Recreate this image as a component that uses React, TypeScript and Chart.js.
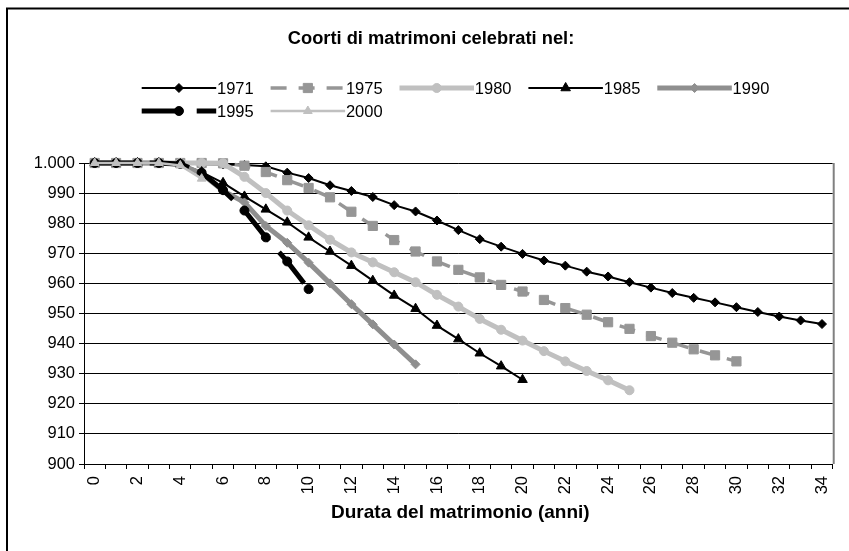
import React, { useEffect, useRef } from 'react';
import { Chart, registerables } from 'chart.js';
import { drawPoint } from 'chart.js/helpers';

Chart.register(...registerables);

// ---------- data ----------
const categories = [
  '0', '1', '2', '3', '4', '5', '6', '7', '8', '9', '10', '11', '12', '13', '14', '15', '16',
  '17', '18', '19', '20', '21', '22', '23', '24', '25', '26', '27', '28', '29', '30', '31',
  '32', '33', '34',
];

const seriesNames = ['1971', '1975', '1980', '1985', '1990', '1995', '2000'];

const s1971 = [
  1000, 1000, 1000, 1000, 999.8, 999.6, 999.5, 999.3, 998.9, 996.8, 995.0, 992.6, 990.7, 988.7,
  986.0, 983.9, 980.9, 977.7, 974.7, 972.2, 969.8, 967.6, 965.9, 963.9, 962.3, 960.4, 958.6,
  956.8, 955.2, 953.7, 952.1, 950.5, 949.0, 947.7, 946.5,
];
const s1975 = [
  1000, 1000, 1000, 1000, 1000, 1000, 999.9, 999.1, 997.0, 994.3, 991.7, 988.6, 983.8, 979.1,
  974.4, 970.6, 967.3, 964.5, 962.0, 959.5, 957.3, 954.5, 951.8, 949.6, 947.1, 944.9, 942.5,
  940.3, 938.1, 936.1, 934.1,
];
const s1980 = [
  1000, 1000, 1000, 1000, 1000, 1000, 999.9, 995.4, 990.0, 984.2, 979.3, 974.5, 970.3, 967.0,
  963.7, 960.4, 956.2, 952.3, 948.2, 944.6, 941.0, 937.5, 934.1, 930.9, 927.8, 924.5,
];
const s1985 = [
  1000, 1000, 1000, 1000, 999.7, 997.0, 993.4, 988.9, 984.6, 980.3, 975.3, 970.6, 965.9, 960.9,
  956.0, 951.6, 946.0, 941.5, 936.8, 932.5, 928.0,
];
const s1990 = [
  1000, 1000, 1000, 1000, 999.5, 996.5, 990.8, 986.9, 979.1, 973.5, 966.9, 960.0, 953.1, 946.4,
  939.7, 933.1,
];
const s1995 = [1000, 1000, 1000, 1000, 999.7, 996.8, 991.0, 984.2, 975.3, 967.3, 958.1];
const s2000 = [1000, 1000, 1000, 1000, 999.2, 994.8];

const seriesValues = [s1971, s1975, s1980, s1985, s1990, s1995, s2000];

const yMin = 900;
const yMax = 1000;
const yStep = 10;

const chartTitle = 'Coorti di matrimoni celebrati nel:';
const xAxisTitle = 'Durata del matrimonio (anni)';

// ---------- styles ----------
const FONT = 'Arial, "Liberation Sans", sans-serif';

type SeriesStyle = {
  color: string;
  width: number;
  dash: number[];
  point: string;
  radius: number;
};

const seriesStyles: SeriesStyle[] = [
  { color: '#000000', width: 2, dash: [], point: 'rectRot', radius: 4.5 },
  { color: '#969696', width: 3.5, dash: [16, 12], point: 'rect', radius: 6.5 },
  { color: '#c0c0c0', width: 5, dash: [], point: 'circle', radius: 4.5 },
  { color: '#000000', width: 2, dash: [], point: 'triangle', radius: 5.5 },
  { color: '#8f8f8f', width: 5, dash: [], point: 'rectRot', radius: 4.5 },
  { color: '#000000', width: 5, dash: [40, 15], point: 'circle', radius: 4.5 },
  { color: '#c0c0c0', width: 2.5, dash: [], point: 'triangle', radius: 5 },
];

const formatThousands = (v: number) =>
  String(Math.round(v)).replace(/\B(?=(\d{3})+(?!\d))/g, '.');

const decorPlugin = {
  id: 'decor',
  beforeDraw(chart: any) {
    const { ctx, width, height } = chart;
    ctx.save();
    ctx.fillStyle = '#ffffff';
    ctx.fillRect(0, 0, width, height);
    ctx.strokeStyle = '#000000';
    ctx.lineWidth = 2;
    ctx.beginPath();
    ctx.moveTo(7, height);
    ctx.lineTo(7, 8.5);
    ctx.lineTo(width, 8.5);
    ctx.stroke();
    ctx.restore();
  },
  beforeDatasetsDraw(chart: any) {
    const { ctx, chartArea } = chart;
    ctx.save();
    ctx.strokeStyle = '#808080';
    ctx.lineWidth = 2;
    ctx.beginPath();
    ctx.moveTo(chartArea.right + 1, chartArea.top);
    ctx.lineTo(chartArea.right + 1, chartArea.bottom);
    ctx.stroke();
    ctx.restore();
  },
  afterDraw(chart: any) {
    const { ctx, chartArea } = chart;
    ctx.save();
    ctx.fillStyle = '#000000';
    ctx.textBaseline = 'alphabetic';
    // chart title
    ctx.font = `bold 18.3px ${FONT}`;
    ctx.textAlign = 'center';
    ctx.fillText(chartTitle, 431, 43.5);
    // x axis title
    ctx.font = `bold 19px ${FONT}`;
    ctx.fillText(xAxisTitle, (chartArea.left + chartArea.right) / 2 + 2, 518);

    // legend
    const colStart = 141.7;
    const colStep = 128.9;
    const sampleLen = 74.5;
    const rowY = [88, 111];
    ctx.textAlign = 'left';
    ctx.font = `16.5px ${FONT}`;
    seriesNames.forEach((name, i) => {
      const st = seriesStyles[i];
      const col = i % 5;
      const row = Math.floor(i / 5);
      const x0 = colStart + col * colStep;
      const y = rowY[row];
      ctx.save();
      ctx.strokeStyle = st.color;
      ctx.lineWidth = st.width;
      ctx.setLineDash(st.dash);
      ctx.lineDashOffset = 0;
      ctx.beginPath();
      ctx.moveTo(x0, y);
      ctx.lineTo(x0 + sampleLen, y);
      ctx.stroke();
      ctx.setLineDash([]);
      ctx.fillStyle = st.color;
      ctx.strokeStyle = st.color;
      ctx.lineWidth = 1;
      drawPoint(
        ctx,
        { pointStyle: st.point, rotation: 0, radius: st.radius, borderWidth: 1 } as any,
        x0 + sampleLen / 2,
        y
      );
      ctx.restore();
      ctx.fillStyle = '#000000';
      ctx.fillText(name, x0 + sampleLen + 0.8, y + 5.8);
    });
    ctx.restore();
  },
};

export default function App() {
  const canvasRef = useRef<HTMLCanvasElement | null>(null);

  useEffect(() => {
    const canvas = canvasRef.current;
    if (!canvas) return;

    const datasets = seriesNames.map((name, i) => {
      const st = seriesStyles[i];
      return {
        label: name,
        data: seriesValues[i],
        borderColor: st.color,
        backgroundColor: st.color,
        borderWidth: st.width,
        borderDash: st.dash,
        borderCapStyle: 'butt',
        borderJoinStyle: 'round',
        pointStyle: st.point,
        pointRadius: st.radius,
        pointHoverRadius: st.radius,
        pointBorderWidth: 1,
        pointBackgroundColor: st.color,
        pointBorderColor: st.color,
        tension: 0,
        fill: false,
        clip: false,
        order: seriesNames.length - 1 - i,
      };
    });

    const chart = new Chart(canvas, {
      type: 'line',
      data: { labels: categories, datasets: datasets as any },
      options: {
        animation: false,
        responsive: false,
        devicePixelRatio: 1,
        events: [],
        layout: { padding: { top: 163, left: 0, right: 13, bottom: 0 } },
        plugins: {
          legend: { display: false },
          title: { display: false },
          tooltip: { enabled: false },
        },
        scales: {
          x: {
            type: 'category',
            offset: true,
            grid: {
              offset: true,
              drawOnChartArea: false,
              drawTicks: true,
              tickLength: 5,
              color: '#000000',
              lineWidth: 1,
            },
            border: { display: true, color: '#000000', width: 1 },
            ticks: {
              autoSkip: false,
              minRotation: 90,
              maxRotation: 90,
              padding: 7,
              color: '#000000',
              font: { family: FONT, size: 16.5 },
              callback: (_v: any, i: number) => (i % 2 === 0 ? categories[i] : ''),
            },
            afterFit: (s: any) => {
              s.height = 87;
            },
          },
          y: {
            min: yMin,
            max: yMax,
            grid: {
              color: '#000000',
              lineWidth: 1,
              drawTicks: true,
              tickLength: 5,
            },
            border: { display: true, color: '#000000', width: 1 },
            ticks: {
              stepSize: yStep,
              padding: 4,
              color: '#000000',
              font: { family: FONT, size: 16.5 },
              callback: (v: any) => formatThousands(Number(v)),
            },
            afterFit: (s: any) => {
              s.width = 84;
            },
          },
        },
      } as any,
      plugins: [decorPlugin as any],
    });

    return () => {
      chart.destroy();
    };
  }, []);

  return (
    <div style={{ position: 'fixed', left: 0, top: 0, width: 849, height: 551, background: '#fff' }}>
      <canvas ref={canvasRef} width={849} height={551} style={{ display: 'block' }} />
    </div>
  );
}
